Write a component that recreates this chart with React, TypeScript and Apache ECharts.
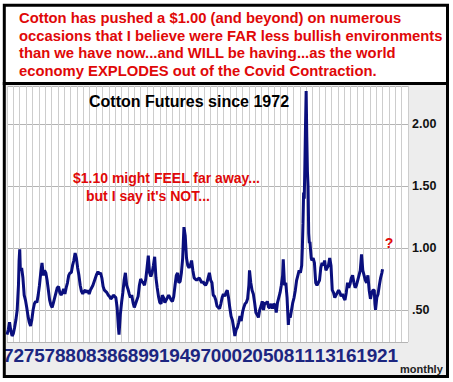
import React, { useEffect, useRef } from "react";
import * as echarts from "echarts";

// Monthly cotton futures (USD / lb)
const cotton: [string, number][] = [
  ["1972-01",0.30],["1972-03",0.34],["1972-05",0.40],["1972-07",0.33],["1972-09",0.29],["1972-11",0.31],
  ["1973-01",0.36],["1973-03",0.42],["1973-05",0.50],["1973-07",0.70],["1973-08",0.90],["1973-09",0.99],["1973-10",0.82],["1973-12",0.84],
  ["1974-02",0.76],["1974-04",0.62],["1974-06",0.58],["1974-08",0.52],["1974-10",0.45],["1974-12",0.40],
  ["1975-02",0.37],["1975-04",0.42],["1975-06",0.50],["1975-08",0.55],["1975-10",0.57],["1975-12",0.56],
  ["1976-02",0.62],["1976-04",0.70],["1976-06",0.80],["1976-08",0.88],["1976-10",0.78],["1976-12",0.82],
  ["1977-02",0.80],["1977-04",0.74],["1977-06",0.66],["1977-08",0.58],["1977-10",0.54],["1977-12",0.52],
  ["1978-02",0.56],["1978-04",0.60],["1978-06",0.64],["1978-08",0.68],["1978-10",0.69],["1978-12",0.64],
  ["1979-02",0.62],["1979-04",0.64],["1979-06",0.67],["1979-08",0.63],["1979-10",0.68],["1979-12",0.72],
  ["1980-02",0.78],["1980-04",0.80],["1980-06",0.80],["1980-08",0.86],["1980-10",0.90],["1980-12",0.96],
  ["1981-02",0.92],["1981-04",0.84],["1981-06",0.78],["1981-08",0.70],["1981-10",0.65],["1981-12",0.63],
  ["1982-02",0.65],["1982-04",0.66],["1982-06",0.64],["1982-08",0.66],["1982-10",0.63],["1982-12",0.66],
  ["1983-02",0.68],["1983-04",0.70],["1983-06",0.73],["1983-08",0.76],["1983-10",0.79],["1983-12",0.81],
  ["1984-02",0.79],["1984-04",0.80],["1984-06",0.76],["1984-08",0.69],["1984-10",0.66],["1984-12",0.65],
  ["1985-02",0.64],["1985-04",0.62],["1985-06",0.61],["1985-08",0.59],["1985-10",0.60],["1985-12",0.62],
  ["1986-02",0.61],["1986-04",0.60],["1986-06",0.52],["1986-08",0.36],["1986-09",0.30],["1986-11",0.46],
  ["1987-01",0.56],["1987-03",0.64],["1987-05",0.74],["1987-07",0.80],["1987-09",0.70],["1987-11",0.67],
  ["1988-01",0.63],["1988-03",0.60],["1988-05",0.62],["1988-07",0.56],["1988-09",0.52],["1988-11",0.55],
  ["1989-01",0.58],["1989-03",0.61],["1989-05",0.70],["1989-07",0.75],["1989-09",0.73],["1989-11",0.72],
  ["1990-01",0.70],["1990-03",0.75],["1990-05",0.84],["1990-07",0.94],["1990-09",0.80],["1990-11",0.77],
  ["1991-01",0.80],["1991-03",0.86],["1991-05",0.93],["1991-07",0.76],["1991-09",0.68],["1991-11",0.61],
  ["1992-01",0.56],["1992-03",0.55],["1992-05",0.62],["1992-07",0.60],["1992-09",0.56],["1992-11",0.58],
  ["1993-01",0.60],["1993-03",0.62],["1993-05",0.60],["1993-07",0.58],["1993-09",0.57],["1993-11",0.61],
  ["1994-01",0.70],["1994-03",0.78],["1994-05",0.80],["1994-07",0.72],["1994-09",0.73],["1994-11",0.80],
  ["1995-01",0.92],["1995-02",1.05],["1995-03",1.17],["1995-05",1.10],["1995-07",0.92],["1995-09",0.86],["1995-11",0.84],
  ["1996-01",0.86],["1996-03",0.90],["1996-05",0.82],["1996-07",0.76],["1996-09",0.75],["1996-11",0.74],
  ["1997-01",0.75],["1997-03",0.76],["1997-05",0.74],["1997-07",0.72],["1997-09",0.73],["1997-11",0.71],
  ["1998-01",0.70],["1998-03",0.72],["1998-05",0.76],["1998-07",0.80],["1998-09",0.74],["1998-11",0.72],
  ["1999-01",0.62],["1999-03",0.61],["1999-05",0.58],["1999-07",0.53],["1999-09",0.52],["1999-11",0.51],
  ["2000-01",0.55],["2000-03",0.60],["2000-05",0.63],["2000-07",0.61],["2000-09",0.64],["2000-11",0.66],
  ["2001-01",0.60],["2001-03",0.52],["2001-05",0.45],["2001-07",0.42],["2001-09",0.36],["2001-11",0.29],
  ["2002-01",0.34],["2002-03",0.36],["2002-05",0.40],["2002-07",0.45],["2002-09",0.41],["2002-11",0.48],
  ["2003-01",0.52],["2003-03",0.55],["2003-05",0.56],["2003-07",0.59],["2003-09",0.70],["2003-10",0.82],["2003-12",0.72],
  ["2004-02",0.66],["2004-04",0.63],["2004-06",0.56],["2004-08",0.48],["2004-10",0.46],["2004-12",0.44],
  ["2005-02",0.50],["2005-04",0.53],["2005-06",0.57],["2005-08",0.50],["2005-10",0.56],["2005-12",0.55],
  ["2006-02",0.57],["2006-04",0.52],["2006-06",0.52],["2006-08",0.55],["2006-10",0.51],["2006-12",0.55],
  ["2007-02",0.54],["2007-04",0.48],["2007-06",0.56],["2007-08",0.60],["2007-10",0.64],["2007-12",0.70],
  ["2008-02",0.78],["2008-03",0.91],["2008-05",0.70],["2008-07",0.72],["2008-09",0.60],["2008-11",0.38],["2008-12",0.45],
  ["2009-02",0.44],["2009-04",0.50],["2009-06",0.56],["2009-08",0.60],["2009-10",0.66],["2009-12",0.74],
  ["2010-02",0.78],["2010-04",0.82],["2010-06",0.80],["2010-08",0.86],["2010-09",1.00],["2010-10",1.20],["2010-11",1.45],["2010-12",1.40],
  ["2011-01",1.68],["2011-02",2.00],["2011-03",2.27],["2011-04",1.90],["2011-05",1.62],["2011-06",1.50],["2011-07",1.12],["2011-08",1.04],["2011-09",1.05],["2011-10",0.98],["2011-11",0.92],["2011-12",0.90],
  ["2012-02",0.92],["2012-04",0.88],["2012-06",0.72],["2012-08",0.70],["2012-10",0.72],["2012-12",0.74],
  ["2013-02",0.84],["2013-04",0.88],["2013-06",0.86],["2013-08",0.90],["2013-10",0.82],["2013-12",0.84],
  ["2014-02",0.86],["2014-04",0.92],["2014-06",0.86],["2014-08",0.66],["2014-10",0.64],["2014-12",0.60],
  ["2015-02",0.62],["2015-04",0.64],["2015-06",0.66],["2015-08",0.64],["2015-10",0.61],["2015-12",0.63],
  ["2016-02",0.60],["2016-04",0.58],["2016-06",0.64],["2016-08",0.72],["2016-10",0.68],["2016-12",0.71],
  ["2017-02",0.76],["2017-04",0.78],["2017-06",0.72],["2017-08",0.68],["2017-10",0.70],["2017-12",0.74],
  ["2018-02",0.78],["2018-04",0.82],["2018-06",0.95],["2018-08",0.82],["2018-10",0.78],["2018-12",0.74],
  ["2019-02",0.72],["2019-04",0.78],["2019-06",0.66],["2019-08",0.59],["2019-10",0.64],["2019-12",0.66],
  ["2020-02",0.66],["2020-03",0.55],["2020-04",0.50],["2020-06",0.60],["2020-08",0.63],["2020-10",0.70],["2020-12",0.76],
  ["2021-02",0.80],["2021-03",0.83],
];

const yearLabels = ["72","75","78","80","83","86","89","91","94","97","00","02","05","08","11","13","16","19","21"];

const headline = [
  "Cotton has pushed a $1.00 (and beyond) on numerous",
  "occasions that I believe were FAR less bullish environments",
  "than we have now...and WILL be having...as the world",
  "economy EXPLODES out of the Covid Contraction.",
];
const chartTitle = "Cotton Futures since 1972";
const noteLine1 = "$1.10 might FEEL far away...";
const noteLine2 = "but I say it's NOT...";
const startYear = 1972;

function monthIndex(d: string): number {
  const [y, m] = d.split("-").map(Number);
  return (y - startYear) * 12 + (m - 1);
}

export default function App() {
  const ref = useRef<HTMLDivElement>(null);
  useEffect(() => {
    if (!ref.current) return;
    const chart = echarts.init(ref.current, null, { renderer: "svg" });
    const red = "#e00808";
    const font = "Liberation Sans, Arial, sans-serif";
    chart.setOption({
      animation: false,
      backgroundColor: "#ffffff",
      grid: [
        { left: 7, right: 45, top: 86, bottom: 40, show: true, backgroundColor: "#ffffff", borderWidth: 0 },
        { left: 2, width: 396, top: 340, height: 1, show: false },
      ],
      xAxis: [
        {
          type: "value", gridIndex: 0, min: 0, max: 630, interval: 10,
          axisLine: { show: false }, axisTick: { show: false }, axisLabel: { show: false },
          splitLine: { show: true, lineStyle: { color: "#cdcdcd", width: 1 } },
        },
        {
          type: "category", gridIndex: 1, data: yearLabels, position: "bottom",
          axisLine: { show: false }, axisTick: { show: false },
          axisLabel: { interval: 0, fontSize: 19, fontWeight: "bold", color: "#1c2680", fontFamily: font, margin: 5 },
          splitLine: { show: false },
        },
      ],
      yAxis: [
        {
          type: "value", gridIndex: 0, min: 0.241, max: 2.311, splitNumber: 4, position: "right",
          axisLine: { show: false }, axisTick: { show: false },
          axisLabel: {
            margin: 4, fontSize: 12.5, fontWeight: "bold", color: "#111", fontFamily: font,
            showMinLabel: false, showMaxLabel: false,
            formatter: (v: number) => (v < 1 ? "." + Math.round(v * 100) : v.toFixed(2)),
          },
          splitLine: { show: true, lineStyle: { color: "#b4b4b4", width: 1 } },
        },
        { type: "value", gridIndex: 1, show: false },
      ],
      series: [
        {
          type: "line", xAxisIndex: 0, yAxisIndex: 0, symbol: "none",
          lineStyle: { color: "#0a0f7d", width: 3 },
          data: cotton.map(([d, v]) => [monthIndex(d), v]),
        },
      ],
      graphic: [
        { type: "rect", z: -1, shape: { x: 6, y: 85, width: 440, height: 290 }, style: { fill: "#ededed" } },
        { type: "rect", z: 50, shape: { x: 4.3, y: 5.3, width: 443.2, height: 78.2 }, style: { fill: "#ffffff", stroke: "#000", lineWidth: 3 } },
        { type: "rect", z: 50, shape: { x: 4.3, y: 83.5, width: 443.2, height: 293 }, style: { fill: "none", stroke: "#000", lineWidth: 3 } },
        { type: "text", z: 60, x: 19, y: 9.3, style: { text: headline.join("\n"), font: `bold 14.8px ${font}`, lineHeight: 17.5, fill: red, textVerticalAlign: "top" } },
        { type: "text", z: 60, x: 189, y: 101, style: { text: chartTitle, font: `bold 16px ${font}`, fill: "#000", textAlign: "center", textVerticalAlign: "middle" } },
        { type: "text", z: 60, x: 73, y: 178, style: { text: noteLine1, font: `bold 14px ${font}`, fill: red, textVerticalAlign: "middle" } },
        { type: "text", z: 60, x: 86, y: 195.5, style: { text: noteLine2, font: `bold 14px ${font}`, fill: red, textVerticalAlign: "middle" } },
        { type: "text", z: 60, x: 389, y: 242.5, style: { text: "?", font: `bold 14px ${font}`, fill: red, textAlign: "center", textVerticalAlign: "middle" } },
        { type: "text", z: 60, x: 400, y: 368.5, style: { text: "monthly", font: `bold 11px ${font}`, fill: "#222", textVerticalAlign: "middle" } },
      ],
    });
    return () => chart.dispose();
  }, []);
  return <div ref={ref} style={{ position: "fixed", left: 0, top: 0, width: 453, height: 382 }} />;
}
